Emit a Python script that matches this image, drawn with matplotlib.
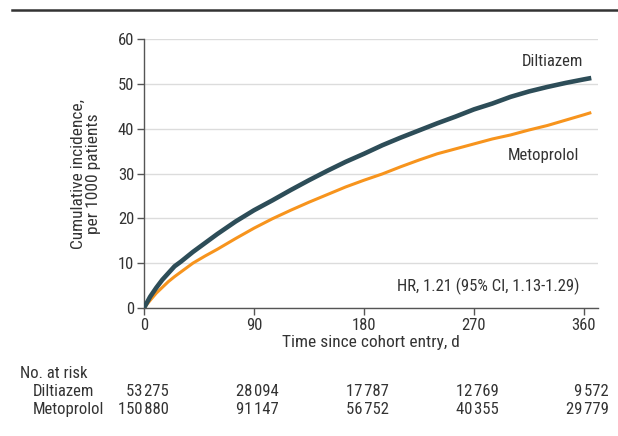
import matplotlib
matplotlib.use("Agg")
import matplotlib.pyplot as plt
from matplotlib.transforms import blended_transform_factory

plt.rcParams['font.family'] = ['Roboto Condensed', 'DejaVu Sans']

# cumulative incidence per 1000 patients
days = [0, 5, 10, 15, 20, 25, 30, 40, 50, 60, 75, 90, 105, 120, 135, 150, 165,
        180, 195, 210, 225, 240, 255, 270, 285, 300, 315, 330, 345, 360, 366]
diltiazem = [0, 2.5, 4.5, 6.3, 7.8, 9.3, 10.3, 12.5, 14.5, 16.5, 19.3, 21.8,
             24.0, 26.3, 28.5, 30.6, 32.6, 34.4, 36.3, 38.0, 39.6, 41.2, 42.7,
             44.3, 45.6, 47.1, 48.3, 49.3, 50.2, 51.0, 51.3]
metoprolol = [0, 1.7, 3.3, 4.6, 5.9, 7.0, 8.0, 10.0, 11.6, 13.1, 15.5, 17.8,
              19.9, 21.8, 23.6, 25.3, 27.0, 28.5, 29.9, 31.5, 33.0, 34.4, 35.5,
              36.6, 37.7, 38.6, 39.7, 40.7, 41.9, 43.1, 43.6]

risk_days = [0, 90, 180, 270, 360]
risk_dil = ["53\u200a275", "28\u200a094", "17\u200a787", "12\u200a769", "9\u200a572"]
risk_met = ["150\u200a880", "91\u200a147", "56\u200a752", "40\u200a355", "29\u200a779"]

c_dil = "#2d4d58"
c_met = "#f7941d"
c_txt = "#333333"
fs = 12

fig = plt.figure(figsize=(6.18, 4.36), dpi=100)
ax = fig.add_axes([144/618, 1 - 308/436, (598 - 144)/618, (308 - 39)/436])

# header rule
fig.add_artist(plt.Line2D([12/618, 1], [1 - 10/436, 1 - 10/436], color="#333333", lw=1.8))

ax.plot(days, metoprolol, color=c_met, lw=2.2, solid_capstyle="butt", zorder=3)
ax.plot(days, diltiazem, color=c_dil, lw=3.3, solid_capstyle="butt", zorder=4)

ax.set_xlim(0, 371.5)
ax.set_ylim(0, 60)
ax.set_xticks(risk_days)
ax.set_yticks(range(0, 61, 10))
ax.yaxis.grid(True, color="#dcdcdc", lw=1)
ax.set_axisbelow(True)
for s in ["top", "right"]:
    ax.spines[s].set_visible(False)
for s in ["left", "bottom"]:
    ax.spines[s].set_color("#555555")
    ax.spines[s].set_linewidth(1)
ax.tick_params(colors="#555555", labelcolor=c_txt, labelsize=fs, length=5, width=1, pad=2)

ax.set_xlabel("Time since cohort entry, d", fontsize=12.5, color=c_txt, labelpad=2)
ax.set_ylabel("Cumulative incidence,\nper 1000 patients", fontsize=12.5, color=c_txt,
              labelpad=12, linespacing=1.0)

ax.text(359, 54.9, "Diltiazem", ha="right", va="center", fontsize=fs, color=c_txt)
ax.text(356, 34.1, "Metoprolol", ha="right", va="center", fontsize=fs, color=c_txt)
ax.text(356, 4.9, "HR, 1.21 (95% CI, 1.13-1.29)", ha="right", va="center",
        fontsize=fs, color=c_txt)

# number at risk table
tr = blended_transform_factory(ax.transData, fig.transFigure)
fig.text(20/618, 1 - 373/436, "No. at risk", ha="left", va="center", fontsize=fs, color=c_txt)
fig.text(33/618, 1 - 391/436, "Diltiazem", ha="left", va="center", fontsize=fs, color=c_txt)
fig.text(33/618, 1 - 409/436, "Metoprolol", ha="left", va="center", fontsize=fs, color=c_txt)
for d, a, b in zip(risk_days, risk_dil, risk_met):
    ax.text(d + 20.5, 1 - 391/436, a, transform=tr, ha="right", va="center",
            fontsize=fs, color=c_txt)
    ax.text(d + 20.5, 1 - 409/436, b, transform=tr, ha="right", va="center",
            fontsize=fs, color=c_txt)

fig.savefig("out.png", dpi=100)
